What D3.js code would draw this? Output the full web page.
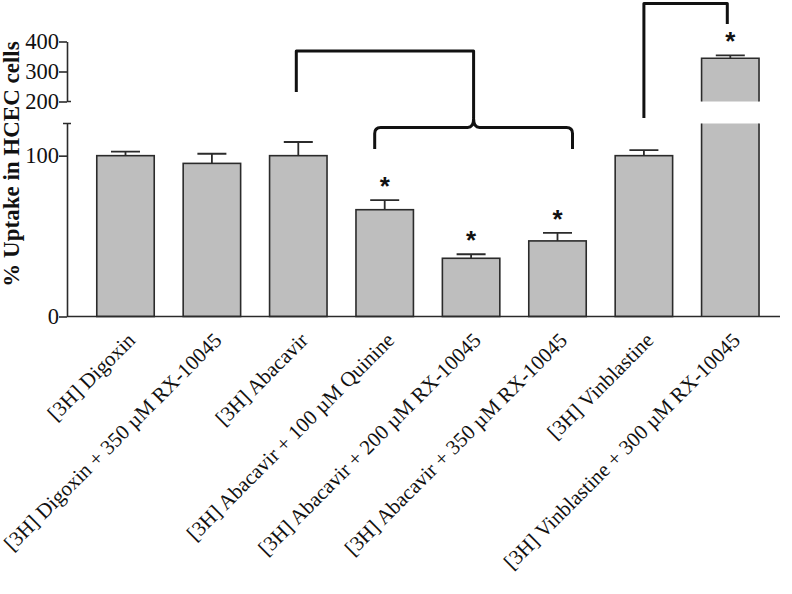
<!DOCTYPE html>
<html><head><meta charset="utf-8">
<script src="https://cdn.jsdelivr.net/npm/d3@7"></script>
<style>
body{margin:0;background:#fff}svg{display:block}
.serif{font-family:"Liberation Serif","Times New Roman",Times,serif}
.sans{font-family:"Liberation Sans",Arial,Helvetica,sans-serif}
</style>
</head><body>
<script>
const categories = [
  "[3H] Digoxin",
  "[3H] Digoxin + 350 µM RX-10045",
  "[3H] Abacavir",
  "[3H] Abacavir + 100 µM Quinine",
  "[3H] Abacavir + 200 µM RX-10045",
  "[3H] Abacavir + 350 µM RX-10045",
  "[3H] Vinblastine",
  "[3H] Vinblastine + 300 µM RX-10045"
];
const values = [100, 95.2, 100, 66.4, 36.2, 47, 100, 344];
const errors = [2.5, 6, 8.5, 6, 2.5, 5, 3.5, 10];
const significant = [false, false, false, true, true, true, false, true];
const lowTicks = [0, 100];
const highTicks = [200, 300, 400];
const yTitle = "% Uptake in HCEC cells";

const W = 792, H = 594;
const svg = d3.select("body").append("svg").attr("width", W).attr("height", H);

const x = d3.scaleBand().domain(categories).range([82.3, 773.5]).paddingInner(0.335).paddingOuter(0.1675);
const yLow = d3.scaleLinear().domain([0, 120]).range([316.5, 123.5]);
const yHigh = d3.scaleLinear().domain([200, 400]).range([101.5, 41.5]);
const breakLow = 120, breakHigh = 200;
const y = v => v <= breakLow ? yLow(v) : yHigh(v);

const axisX = 67;
const dark = "#2b2b2b";

// bars
const g = svg.append("g");
categories.forEach((c, i) => {
  const v = values[i], x0 = x(c), bw = x.bandwidth();
  if (v <= breakLow) {
    g.append("rect").attr("x", x0).attr("y", yLow(v)).attr("width", bw).attr("height", yLow(0) - yLow(v))
      .attr("fill", "#bebebe").attr("stroke", dark).attr("stroke-width", 1.6);
  } else {
    g.append("rect").attr("x", x0).attr("y", yLow(breakLow)).attr("width", bw).attr("height", yLow(0) - yLow(breakLow))
      .attr("fill", "#bebebe");
    g.append("path").attr("d", `M${x0},${yLow(0)}V${yLow(breakLow)}M${x0+bw},${yLow(0)}V${yLow(breakLow)}`)
      .attr("stroke", dark).attr("stroke-width", 1.6).attr("fill", "none");
    g.append("rect").attr("x", x0).attr("y", yHigh(v)).attr("width", bw).attr("height", yHigh(breakHigh) - yHigh(v))
      .attr("fill", "#bebebe");
    g.append("path").attr("d", `M${x0},${yHigh(breakHigh)}V${yHigh(v)}H${x0+bw}V${yHigh(breakHigh)}`)
      .attr("stroke", dark).attr("stroke-width", 1.6).attr("fill", "none");
  }
  const cx = x0 + bw / 2, top = y(v + errors[i]);
  g.append("path").attr("d", `M${cx},${y(v)}V${top}M${cx-14.5},${top}H${cx+14.5}`)
    .attr("stroke", dark).attr("stroke-width", 1.8).attr("fill", "none");
  if (significant[i]) {
    g.append("text").attr("class", "sans").attr("x", cx).attr("y", top - 5).attr("text-anchor", "middle")
      .style("font-weight", "bold").style("font-size", "26px").attr("fill", "#111").text("*");
  }
});

// x axis line
svg.append("line").attr("x1", axisX).attr("x2", 780).attr("y1", yLow(0)).attr("y2", yLow(0))
  .attr("stroke", dark).attr("stroke-width", 1.6);

// y axes (broken)
const axLow = svg.append("g").attr("transform", `translate(${axisX},0)`)
  .call(d3.axisLeft(yLow).tickValues(lowTicks).tickSize(8).tickSizeOuter(0).tickPadding(0));
const axHigh = svg.append("g").attr("transform", `translate(${axisX},0)`)
  .call(d3.axisLeft(yHigh).tickValues(highTicks).tickSize(8).tickSizeOuter(0).tickPadding(0));
[axLow, axHigh].forEach(a => {
  a.attr("font-family", null).attr("font-size", null);
  a.select(".domain").attr("stroke", dark).attr("stroke-width", 1.6);
  a.selectAll(".tick line").attr("stroke", dark).attr("stroke-width", 1.6);
  a.selectAll(".tick text").attr("class", "serif").style("font-size", "22.5px").attr("fill", "#111");
});
svg.append("path").attr("d", `M${axisX-4},${yLow(breakLow)}H${axisX+4}M${axisX},${yHigh(breakHigh)}H${axisX+4}`)
  .attr("stroke", dark).attr("stroke-width", 1.6);

// y title
svg.append("text").attr("class", "serif")
  .attr("transform", `translate(18.5,${(yLow(0)+yHigh(400))/2 - 15}) rotate(-90)`)
  .attr("text-anchor", "middle").style("font-weight", "bold").style("font-size", "23px")
  .attr("fill", "#111").text(yTitle);

// x labels
categories.forEach(c => {
  const cx = x(c) + x.bandwidth() / 2;
  svg.append("text").attr("class", "serif")
    .attr("transform", `translate(${cx + 11},${yLow(0) + 25}) rotate(-45)`)
    .attr("text-anchor", "end").style("font-size", "21px").attr("fill", "#111").text(c);
});

// comparison brackets
const cxOf = i => x(categories[i]) + x.bandwidth() / 2;
const bk = svg.append("g").attr("stroke", "#111").attr("stroke-width", 3).attr("fill", "none")
  .attr("stroke-linejoin", "round");
const bl = cxOf(3) - 10, br = cxOf(5) + 15, by = 127.5, bb = 149;
const midX = (bl + br) / 2;
bk.append("path").attr("d", `M${cxOf(2) - 2},92V51H${midX}V118`);
bk.append("path").attr("d",
  `M${bl},${bb}V${by+6}Q${bl},${by} ${bl+6},${by}H${midX-6}Q${midX},${by} ${midX},${by-9}` +
  `Q${midX},${by} ${midX+6},${by}H${br-6}Q${br},${by} ${br},${by+6}V${bb}`);
bk.append("path").attr("d", `M${cxOf(6)},118V3.5H${cxOf(7) - 3}V24`);
</script>
</body></html>
